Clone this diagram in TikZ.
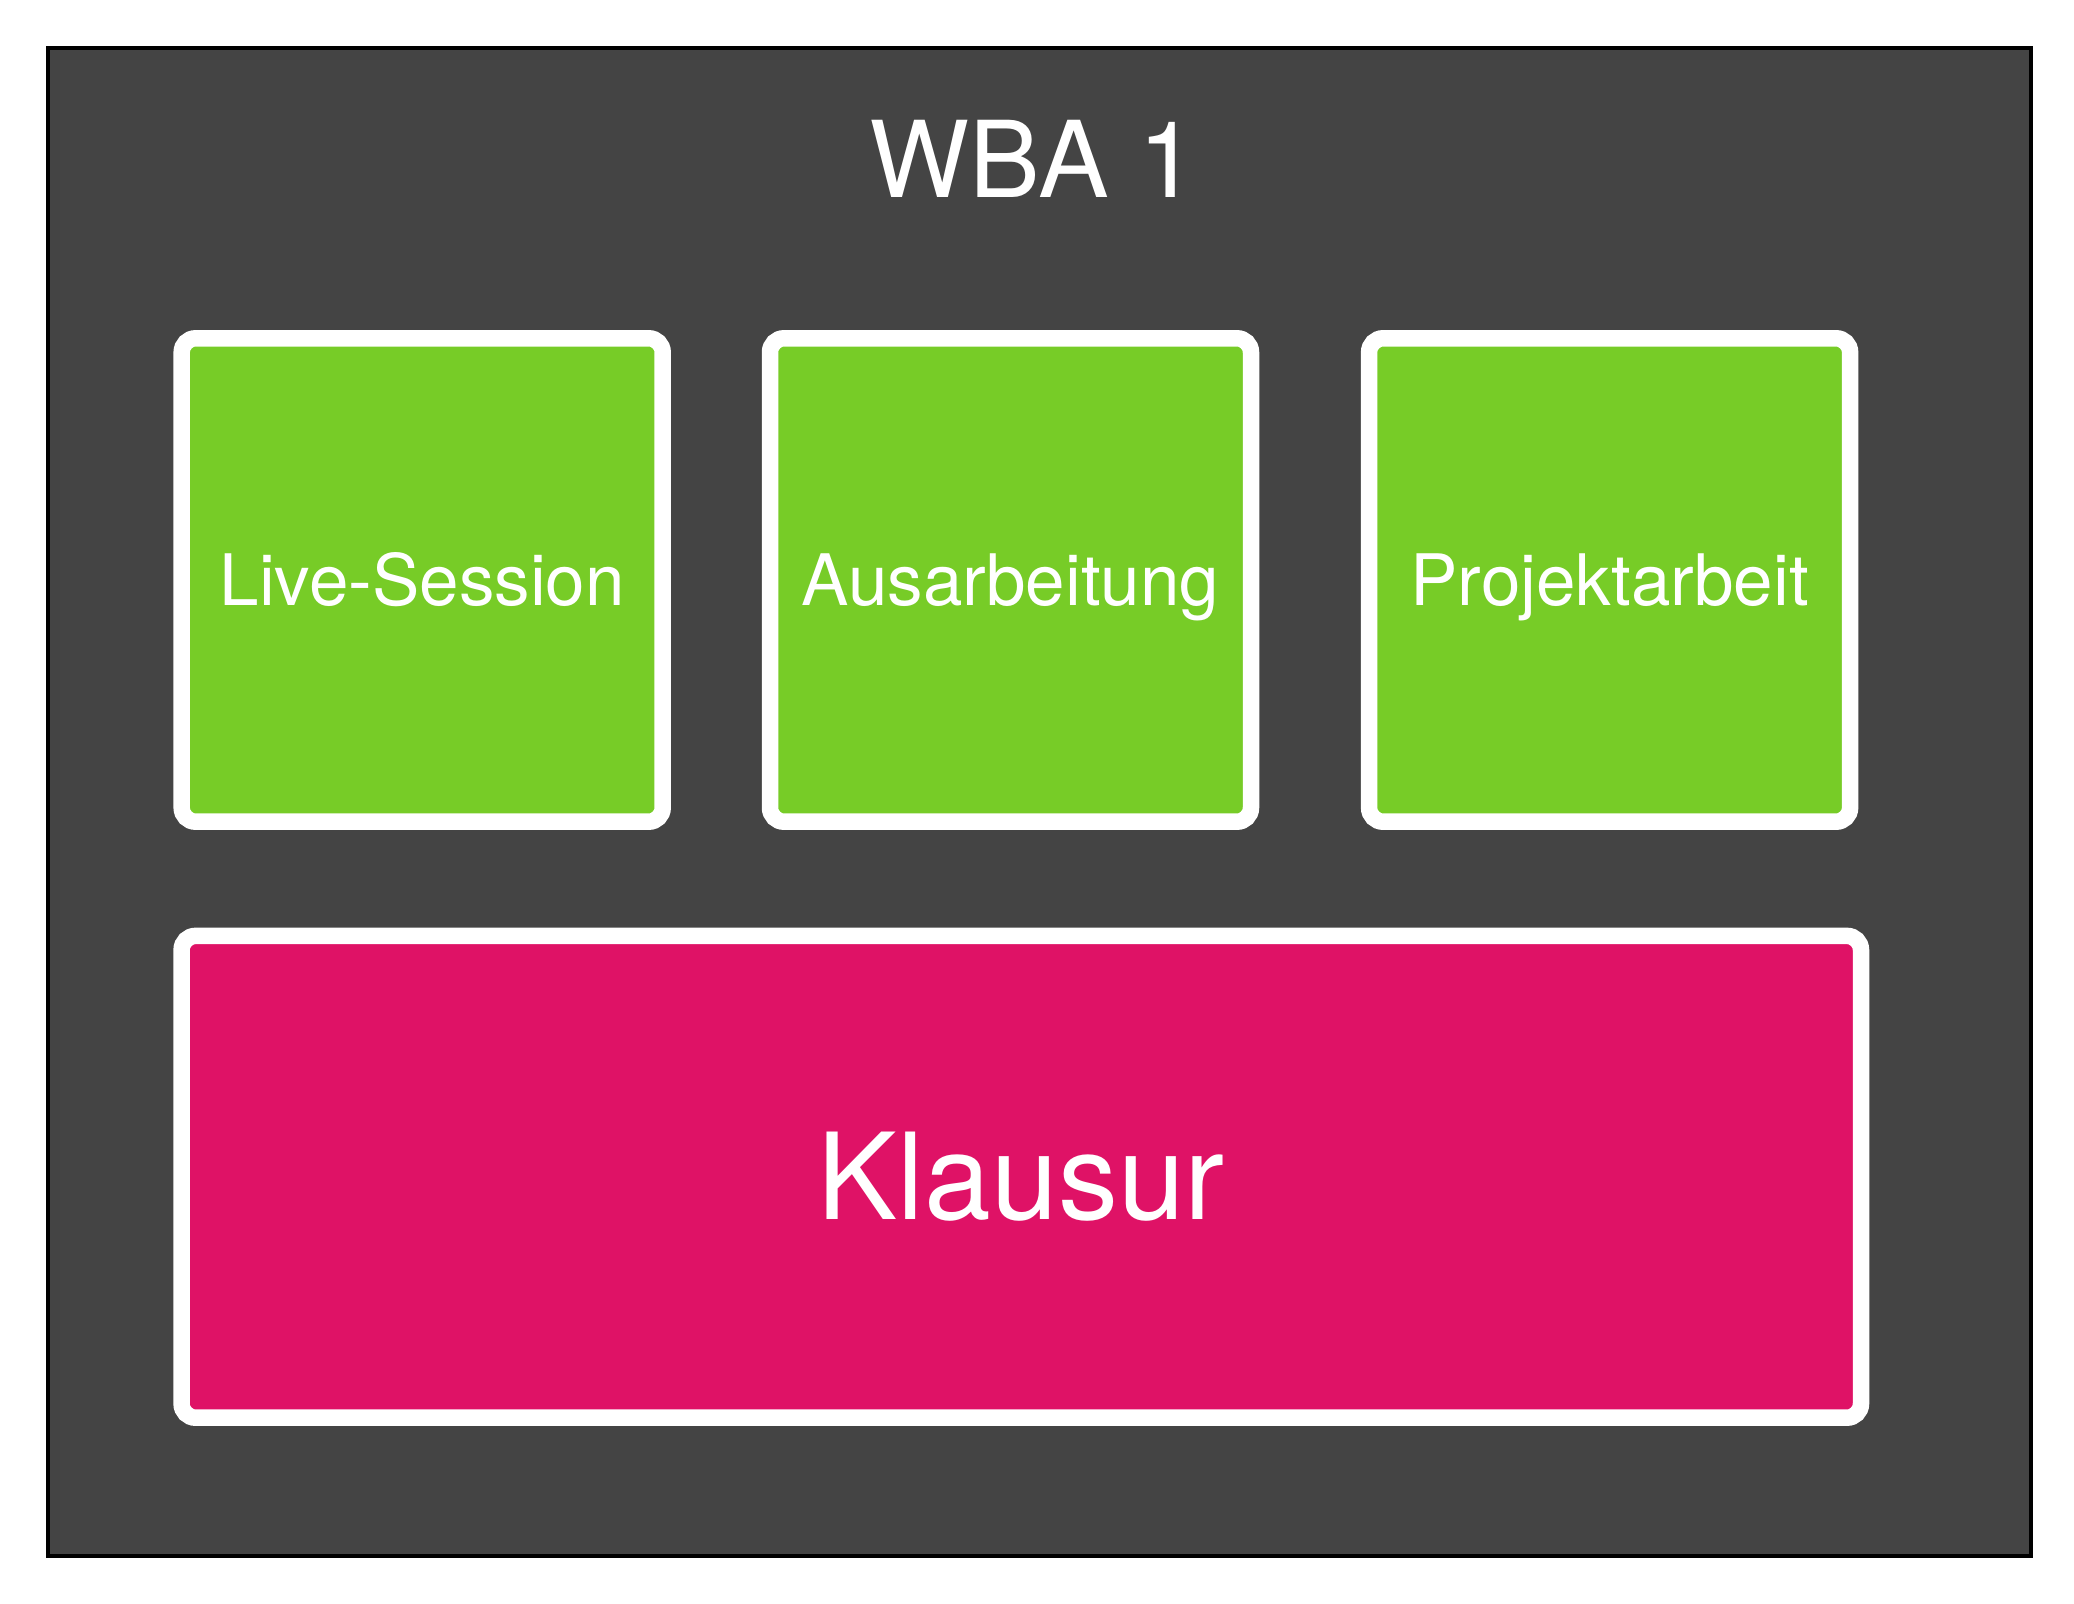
\documentclass[tikz,border=0pt]{standalone}
\usepackage{fontspec}
\setmainfont{TeX Gyre Heros}
\definecolor{bgdark}{RGB}{68,68,68}
\definecolor{boxgreen}{RGB}{119,204,39}
\definecolor{boxpink}{RGB}{223,18,102}
\begin{document}
\begin{tikzpicture}[x=0.5pt,y=-0.5pt,
  frame/.style={draw=black,line width=2pt,fill=bgdark},
  tile/.style={draw=white,line width=8.25pt,rounded corners=7pt,inner sep=0pt,outer sep=0pt,
    text=white,font=\fontsize{35.5pt}{40pt}\selectfont,text height=25.5pt,text depth=0pt},
  greentile/.style={tile,fill=boxgreen,minimum width=240.5pt,minimum height=241.7pt},
  bigtile/.style={tile,fill=boxpink,minimum width=839.7pt,minimum height=240.9pt,
    font=\fontsize{60pt}{66pt}\selectfont,text height=43pt}]
\useasboundingbox (0,0) rectangle (2074,1604);
\draw[frame] (48,48) rectangle (2031,1556);
\node[text=white,font=\fontsize{53pt}{60pt}\selectfont,anchor=base] (title) at (1033.5,197.3) {WBA 1};
\node[greentile] (live) at (422.2,580) {Live-Session};
\node[greentile] (aus) at (1010.5,580) {Ausarbeitung};
\node[greentile] (proj) at (1609.6,580) {Projektarbeit};
\node[bigtile] (klausur) at (1021.3,1176.8) {Klausur};
\end{tikzpicture}
\end{document}
